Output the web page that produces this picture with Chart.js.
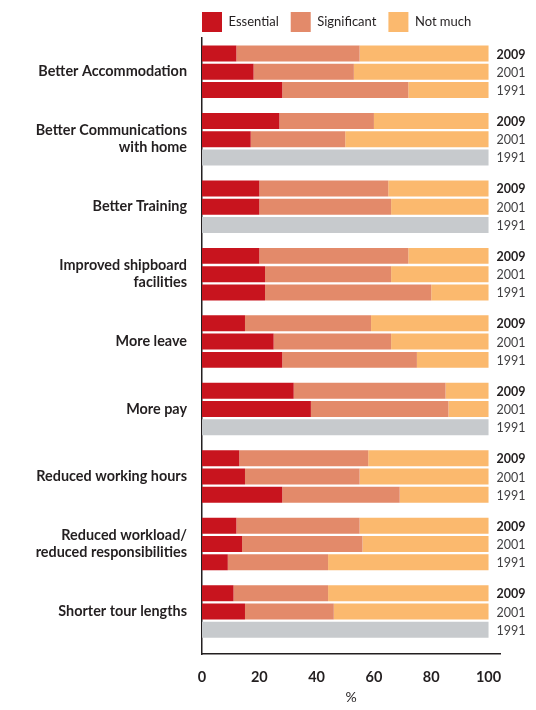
<!DOCTYPE html>
<html>
<head>
<meta charset="utf-8">
<script src="https://cdn.jsdelivr.net/npm/chart.js@4"></script>
<style>
  html, body { margin: 0; padding: 0; background: #fff; }
</style>
</head>
<body>
<canvas id="grafico" width="536" height="710"></canvas>
<script>
const categorias = [
  'Better Accommodation',
  ['Better Communications', 'with home'],
  'Better Training',
  ['Improved shipboard', 'facilities'],
  'More leave',
  'More pay',
  'Reduced working hours',
  ['Reduced workload/', 'reduced responsibilities'],
  'Shorter tour lengths',
];
const anos = ['2009', '2001', '1991'];
const ticksX = [0, 20, 40, 60, 80, 100];

// % por ano: Essential / Significant / Not much (null = sem dado em 1991)
const essential2009 = [12, 27, 20, 20, 15, 32, 13, 12, 11];
const significant2009 = [43, 33, 45, 52, 44, 53, 45, 43, 33];
const notMuch2009 = [45, 40, 35, 28, 41, 15, 42, 45, 56];

const essential2001 = [18, 17, 20, 22, 25, 38, 15, 14, 15];
const significant2001 = [35, 33, 46, 44, 41, 48, 40, 42, 31];
const notMuch2001 = [47, 50, 34, 34, 34, 14, 45, 44, 54];

const essential1991 = [28, null, null, 22, 28, null, 28, 9, null];
const significant1991 = [44, null, null, 58, 47, null, 41, 35, null];
const notMuch1991 = [28, null, null, 20, 25, null, 31, 56, null];

const cores = {
  essential: '#c8141e',
  significant: '#e38a6a',
  notMuch: '#fbb96e',
  semDado: '#c7cacd',
};
const fonte = 'Lato, "Open Sans", sans-serif';

function serie(label, valores, stack, cor) {
  return {
    label,
    stack,
    backgroundColor: cor,
    borderWidth: 0,
    barPercentage: 0.875,
    categoryPercentage: 0.812,
    data: valores.map((v, i) => ({ x: v, y: i })).filter((p) => p.x !== null),
  };
}

const datasets = [
  serie('Essential', essential2009, '2009', cores.essential),
  serie('Significant', significant2009, '2009', cores.significant),
  serie('Not much', notMuch2009, '2009', cores.notMuch),
  serie('Essential', essential2001, '2001', cores.essential),
  serie('Significant', significant2001, '2001', cores.significant),
  serie('Not much', notMuch2001, '2001', cores.notMuch),
  serie('Essential', essential1991, '1991', cores.essential),
  serie('Significant', significant1991, '1991', cores.significant),
  serie('Not much', notMuch1991, '1991', cores.notMuch),
  serie('No data', essential1991.map((v) => (v === null ? 100 : null)), '1991', cores.semDado),
];

// anos escritos à direita de cada barra
const rotulosAno = {
  id: 'rotulosAno',
  afterDatasetsDraw(chart) {
    const { ctx } = chart;
    const xTexto = chart.scales.x.getPixelForValue(100) + 8;
    ctx.save();
    ctx.textBaseline = 'middle';
    ctx.textAlign = 'left';
    anos.forEach((ano) => {
      const feitos = new Set();
      chart.data.datasets.forEach((ds, di) => {
        if (ds.stack !== ano) return;
        const meta = chart.getDatasetMeta(di);
        meta.data.forEach((el, j) => {
          const cat = ds.data[j].y;
          if (feitos.has(cat)) return;
          feitos.add(cat);
          ctx.font = (ano === '2009' ? 'bold ' : '') + '12.5px ' + fonte;
          ctx.fillStyle = ano === '2009' ? '#231f20' : '#414042';
          ctx.fillText(ano, xTexto, el.y + 1);
        });
      });
    });
    ctx.restore();
  },
};

// legenda começa rente ao eixo
const ajusteLegenda = {
  id: 'ajusteLegenda',
  afterLayout(chart) {
    chart.legend.left -= 12;
    chart.legend.right -= 12;
  },
};

const ctx = document.getElementById('grafico').getContext('2d');
const grafico = new Chart(ctx, {
  type: 'bar',
  data: { datasets },
  plugins: [rotulosAno, ajusteLegenda],
  options: {
    indexAxis: 'y',
    responsive: false,
    devicePixelRatio: 1,
    animation: false,
    layout: { padding: { top: 0, right: 36, bottom: 0, left: 0 } },
    plugins: {
      tooltip: { enabled: false },
      legend: {
        position: 'top',
        align: 'start',
        fullSize: false,
        maxHeight: 38,
        labels: {
          boxWidth: 20,
          boxHeight: 20,
          padding: 12,
          color: '#231f20',
          font: { family: fonte, size: 13 },
          filter: (item, data) => data.datasets[item.datasetIndex].stack === '2009',
        },
      },
    },
    scales: {
      x: {
        type: 'linear',
        stacked: true,
        min: 0,
        max: 104,
        afterBuildTicks: (scale) => {
          scale.ticks = ticksX.map((v) => ({ value: v }));
        },
        afterFit: (scale) => {
          scale.height = 56;
        },
        grid: { display: false, drawTicks: false },
        border: { display: true, color: '#231f20', width: 1.5 },
        ticks: {
          padding: 15,
          color: '#231f20',
          font: { family: fonte, size: 14.5, weight: 'bold' },
        },
        title: {
          display: true,
          text: '%',
          color: '#231f20',
          font: { family: fonte, size: 14 },
          padding: { top: 0, bottom: 4 },
        },
      },
      y: {
        type: 'linear',
        stacked: true,
        reverse: true,
        offset: false,
        min: -0.5,
        max: 8.63,
        afterBuildTicks: (scale) => {
          scale.ticks = categorias.map((c, i) => ({ value: i }));
        },
        afterFit: (scale) => {
          scale.width = 202;
        },
        grid: { display: false, drawTicks: false },
        border: { display: true, color: '#231f20', width: 1.5 },
        ticks: {
          autoSkip: false,
          padding: 15,
          color: '#231f20',
          font: { family: fonte, size: 14.4, weight: 'bold' },
          callback: (value) => categorias[value],
        },
      },
    },
  },
});
</script>
</body>
</html>
